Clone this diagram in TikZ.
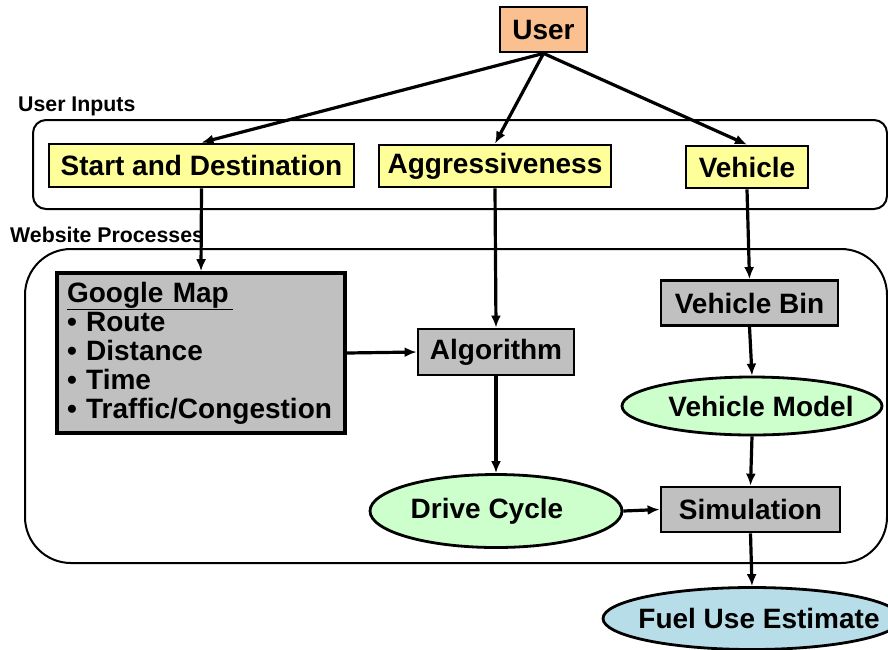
\documentclass[tikz,border=0pt]{standalone}
\usepackage{fontspec}
\setmainfont{Liberation Sans}
\usetikzlibrary{shapes.geometric,arrows.meta}
\definecolor{userfill}{HTML}{FAC090}
\definecolor{yelfill}{HTML}{FFFF99}
\definecolor{grayfill}{HTML}{C0C0C0}
\definecolor{greenfill}{HTML}{CCFFCC}
\definecolor{bluefill}{HTML}{B7DEE8}
\begin{document}
\begin{tikzpicture}[x=1pt,y=-1pt,
  every node/.style={font=\fontsize{28}{29}\selectfont\bfseries},
  box/.style={draw=black,line width=2.8pt,rectangle,inner sep=0pt,align=center},
  oval/.style={draw=black,line width=2.8pt,ellipse,inner sep=0pt,align=center},
  grp/.style={draw=black,line width=2pt,rectangle,inner sep=0pt},
  lbl/.style={anchor=west,inner sep=0pt,font=\fontsize{21.3}{23}\selectfont\bfseries},
  arr/.style={-{Latex[length=12pt,width=10pt]},line width=3.2pt}
]
\clip (0,0) rectangle (888,649);
% groups
\node[grp,rounded corners=13pt,minimum width=854,minimum height=89] (inputs) at (460,164.5) {};
\node[grp,rounded corners=46pt,minimum width=862,minimum height=314] (website) at (456,406) {};
\node[lbl] (lblin) at (18,106) {User Inputs};
\node[lbl] (lblweb) at (10,235) {Website Processes};
% nodes
\node[box,fill=userfill,minimum width=87,minimum height=45] (user) at (543.5,29.5) {User};
\node[box,fill=yelfill,minimum width=305,minimum height=43] (sd) at (201.5,165.5) {Start and Destination};
\node[box,fill=yelfill,minimum width=232,minimum height=42] (agg) at (495,166) {Aggressiveness};
\node[box,fill=yelfill,minimum width=122,minimum height=42] (veh) at (747,167) {Vehicle};
\node[box,fill=grayfill,line width=3.6pt,text width=268,minimum height=160,inner xsep=10pt,align=left,
  font=\fontsize{28}{29}\selectfont\bfseries] (gmap) at (201,353)
  {\underline{Google Map\,}\\ \textbullet\ Route\\ \textbullet\ Distance\\ \textbullet\ Time\\ \textbullet\ Traffic/Congestion};
\node[box,fill=grayfill,minimum width=156,minimum height=46] (alg) at (496,352) {Algorithm};
\node[box,fill=grayfill,minimum width=177,minimum height=45] (vbin) at (749.5,303) {Vehicle Bin};
\node[oval,fill=greenfill,minimum width=260,minimum height=58] (vmodel) at (752,406) {\makebox[0pt]{\hspace*{18pt}Vehicle Model}};
\node[oval,fill=greenfill,minimum width=252,minimum height=73] (drive) at (496,511) {\makebox[0pt]{Drive Cycle\hspace*{18pt}}};
\node[box,fill=grayfill,minimum width=179,minimum height=45] (sim) at (750.5,509.5) {Simulation};
\node[oval,fill=bluefill,minimum width=298,minimum height=62] (fuel) at (752,618.5) {\makebox[0pt]{\hspace*{14pt}Fuel Use Estimate}};
% connectors
\draw[arr] (user.south) -- (sd.north);
\draw[arr] (user.south) -- (agg.north);
\draw[arr] (user.south) -- (veh.north);
\draw[arr] (sd.south) -- (gmap.north);
\draw[arr] (agg.south) -- (alg.north);
\draw[arr] (veh.south) -- (vbin.north);
\draw[arr] (gmap.east) -- (alg.west);
\draw[arr] (vbin.south) -- (vmodel.north);
\draw[arr] (alg.south) -- (drive.north);
\draw[arr] (vmodel.south) -- (sim.north);
\draw[arr] (drive.east) -- (sim.west);
\draw[arr] (sim.south) -- (fuel.north);
\end{tikzpicture}
\end{document}
